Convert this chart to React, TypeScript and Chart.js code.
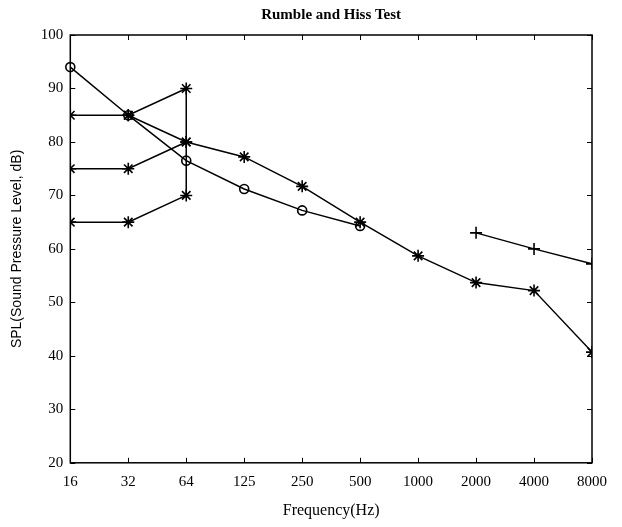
import React, { useEffect, useRef } from "react";
import { Chart, registerables } from "chart.js";

Chart.register(...registerables);

const categories = ["16", "32", "64", "125", "250", "500", "1000", "2000", "4000", "8000"];
const yTicks = [20, 30, 40, 50, 60, 70, 80, 90, 100];

// circle series (o)
const circleSeries = [94, 85, 76.5, 71.2, 67.2, 64.3];
// main asterisk series (starts at 32 Hz)
const starMain = [null, 85, 80, 77.2, 71.7, 65, 58.7, 53.7, 52.2, 40.7];
// three low-frequency asterisk series
const starA = [85, 85, 90];
const starB = [75, 75, 80];
const starC = [65, 65, 70];
// vertical segment at 64 Hz
const vertical = [
  { x: "64", y: 90 },
  { x: "64", y: 70 },
];
// plus series (+)
const plusSeries = [null, null, null, null, null, null, null, 63, 60, 57.2];

const serif = "'Liberation Serif', 'Times New Roman', serif";
const sans = "'Liberation Sans', Arial, sans-serif";

const framePlugin = {
  id: "frame",
  afterDraw(chart: any) {
    const { ctx, chartArea: a, scales } = chart;
    const xs = scales.x;
    const ys = scales.y;
    ctx.save();
    ctx.strokeStyle = "#000";
    ctx.lineWidth = 1;
    const line = (x1: number, y1: number, x2: number, y2: number) => {
      ctx.beginPath();
      ctx.moveTo(x1, y1);
      ctx.lineTo(x2, y2);
      ctx.stroke();
    };
    const tl = 5;
    xs.ticks.forEach((_: any, i: number) => {
      const px = Math.round(xs.getPixelForTick(i)) + 0.5;
      line(px, a.bottom, px, a.bottom - tl);
      line(px, a.top, px, a.top + tl);
    });
    ys.ticks.forEach((_: any, i: number) => {
      const py = Math.round(ys.getPixelForTick(i)) + 0.5;
      line(a.left, py, a.left + tl, py);
      line(a.right, py, a.right - tl, py);
    });
    ctx.lineWidth = 1.5;
    ctx.strokeRect(a.left, a.top, a.right - a.left, a.bottom - a.top);
    ctx.restore();
  },
};

export default function App() {
  const ref = useRef<HTMLCanvasElement>(null);
  useEffect(() => {
    const common = {
      borderColor: "#000",
      borderWidth: 1.5,
      pointBorderColor: "#000",
      pointBackgroundColor: "rgba(0,0,0,0)",
      pointBorderWidth: 1.6,
      fill: false,
      tension: 0,
      spanGaps: false,
    };
    const chart = new Chart(ref.current!, {
      type: "line",
      data: {
        labels: categories,
        datasets: [
          { ...common, label: "circle", data: circleSeries, pointStyle: "circle", pointRadius: 4.5, clip: false } as any,
          { ...common, label: "main", data: starMain, pointStyle: "star", pointRadius: 6, clip: 0 },
          { ...common, label: "A", data: starA, pointStyle: "star", pointRadius: 6, clip: 0 },
          { ...common, label: "B", data: starB, pointStyle: "star", pointRadius: 6, clip: 0 },
          { ...common, label: "C", data: starC, pointStyle: "star", pointRadius: 6, clip: 0 },
          { ...common, label: "vertical", data: vertical as any, pointRadius: 0 },
          { ...common, label: "plus", data: plusSeries, pointStyle: "cross", pointRadius: 6, clip: 0 },
        ],
      },
      options: {
        responsive: false,
        animation: false,
        layout: { padding: { left: 0, right: 30, top: 0, bottom: 7 } },
        plugins: {
          legend: { display: false },
          tooltip: { enabled: false },
          title: { display: false },
        },
        scales: {
          x: {
            type: "category",
            position: "bottom",
            offset: false,
            grid: { display: false, drawTicks: false },
            border: { display: false },
            ticks: {
              color: "#000",
              font: { family: serif, size: 15 },
              padding: 10,
              maxRotation: 0,
              autoSkip: false,
            },
            title: {
              display: true,
              text: "Frequency(Hz)",
              color: "#000",
              font: { family: serif, size: 16 },
              padding: { top: 0, bottom: 0 },
            },
          },
          x2: {
            type: "category",
            position: "top",
            offset: false,
            grid: { display: false, drawTicks: false },
            border: { display: false },
            ticks: { display: false },
            title: {
              display: true,
              text: "Rumble and Hiss Test",
              color: "#000",
              font: { family: serif, size: 15, weight: "bold" },
              padding: { top: 6, bottom: 11 },
            },
          },
          y: {
            type: "linear",
            min: 20,
            max: 100,
            afterBuildTicks: (s: any) => {
              s.ticks = yTicks.map((v) => ({ value: v }));
            },
            grid: { display: false, drawTicks: false },
            border: { display: false },
            ticks: {
              color: "#000",
              font: { family: serif, size: 15 },
              padding: 7,
            },
            title: {
              display: true,
              text: "SPL(Sound Pressure Level, dB)",
              color: "#000",
              font: { family: sans, size: 14 },
              padding: { top: 9, bottom: 8 },
            },
          },
        },
      },
      plugins: [framePlugin],
    });
    return () => chart.destroy();
  }, []);
  return (
    <div style={{ position: "fixed", left: 0, top: 0, width: 622, height: 527, background: "#fff" }}>
      <canvas ref={ref} width={622} height={527} />
    </div>
  );
}
